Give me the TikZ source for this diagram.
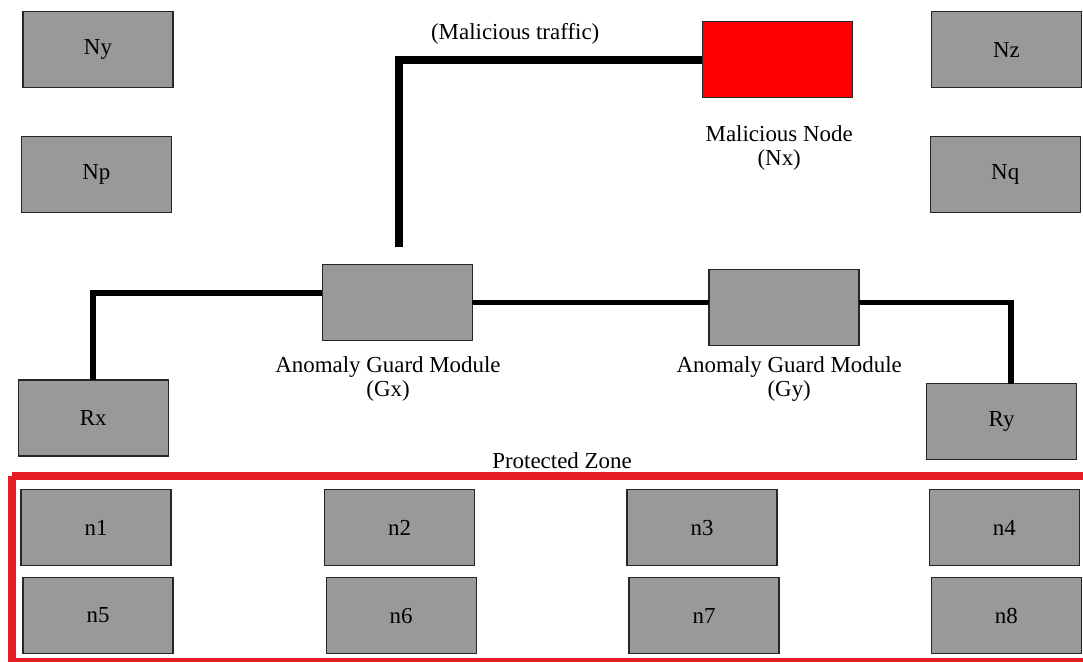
\documentclass[tikz,border=0pt]{standalone}
\usepackage{fontspec}
\setmainfont{Liberation Serif}
\usepackage{tikz}
\usetikzlibrary{positioning,calc}

\definecolor{boxgray}{RGB}{153,153,153}
\definecolor{zonered}{RGB}{228,30,36}

\tikzset{
  box/.style={draw=black!85, line width=0.9pt, fill=boxgray, minimum width=3.75cm,
    minimum height=1.9cm, inner sep=0pt, outer sep=0pt},
  malbox/.style={box, fill=red},
  link/.style={line width=3.9pt, black},
  traffic/.style={line width=5.6pt, black},
  lbl/.style={align=center, font=\fontsize{16.3}{17}\selectfont}
}

\begin{document}
\begin{tikzpicture}[font=\fontsize{16.3}{17}\selectfont]
\useasboundingbox (0,0) rectangle (27.075,16.55);
% Outside nodes
\node[box] (Ny) at (2.45,15.31) {Ny};
\node[box] (Np) at (2.41,12.19) {Np};
\node[box] (Nz) at (25.16,15.31) {Nz};
\node[box] (Nq) at (25.13,12.19) {Nq};
% Attacker
\node[malbox] (Nx) at (19.43,15.06) {};
\node[lbl] (lbNx) at (19.48,12.84) {Malicious Node\\(Nx)};
% Guard modules and routers
\node[box] (Gx) at (9.93,8.99) {};
\node[box] (Gy) at (19.60,8.86) {};
\node[lbl] (lbGx) at (9.70,7.07) {Anomaly Guard Module\\(Gx)};
\node[lbl] (lbGy) at (19.73,7.07) {Anomaly Guard Module\\(Gy)};
\node[box] (Rx) at (2.33,6.10) {Rx};
\node[box] (Ry) at (25.04,6.01) {Ry};
% Malicious traffic path
\coordinate (tr) at (9.98,10.38);
\draw[traffic] (tr) |- (Nx.west);
\node[lbl] (lbTraffic) at (12.88,15.70) {(Malicious traffic)};
% Links
\draw[link] (Rx.north) |- ([yshift=0.24cm]Gx.west);
\draw[link] (Gx.east) -- (Gx.east -| Gy.west);
\draw[link] (Gx.east -| Gy.east) -| ([xshift=0.24cm]Ry.north);
% Protected zone
\draw[zonered, line width=0.2cm] (0.3,4.65) -- (27.6,4.65) (0.3,4.65) -- (0.3,0) -- (27.6,0);
\node[lbl] (lbZone) at (14.05,5.03) {Protected Zone};
\foreach \i/\x/\y in {1/2.40/3.36,2/9.99/3.36,3/17.55/3.36,4/25.11/3.36,
                      5/2.45/1.16,6/10.03/1.16,7/17.60/1.16,8/25.16/1.16} {
  \node[box] (n\i) at (\x,\y) {n\i};
}
\end{tikzpicture}
\end{document}
